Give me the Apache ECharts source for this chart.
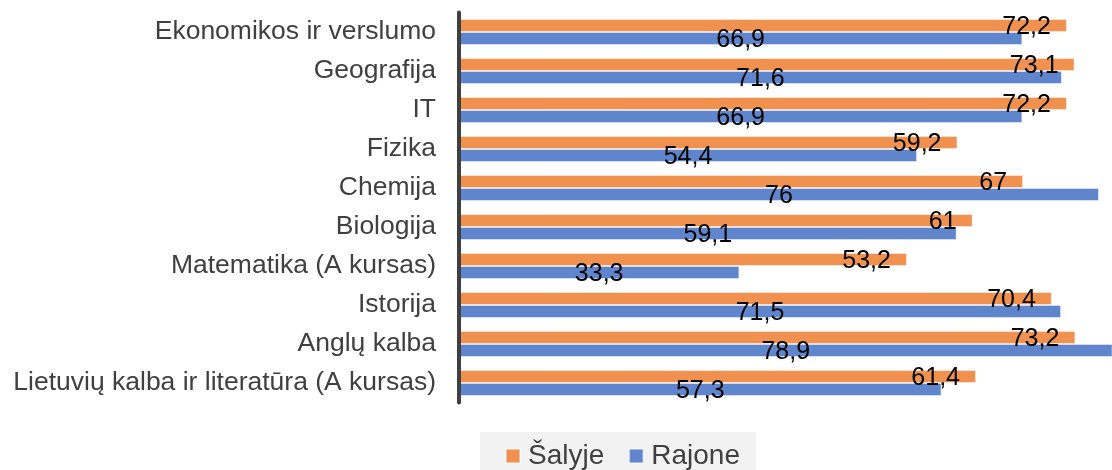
<!DOCTYPE html>
<html>
<head>
<meta charset="utf-8">
<script src="https://cdn.jsdelivr.net/npm/echarts@6/dist/echarts.min.js"></script>
<style>
html,body{margin:0;padding:0;background:#fff;}
#chart{width:1112px;height:470px;}
</style>
</head>
<body>
<div id="chart"></div>
<script>
const categories = [
  'Ekonomikos ir verslumo',
  'Geografija',
  'IT',
  'Fizika',
  'Chemija',
  'Biologija',
  'Matematika (A kursas)',
  'Istorija',
  'Anglų kalba',
  'Lietuvių kalba ir literatūra (A kursas)'
];
const salyje = [72.2, 73.1, 72.2, 59.2, 67, 61, 53.2, 70.4, 73.2, 61.4];
const rajone = [66.9, 71.6, 66.9, 54.4, 76, 59.1, 33.3, 71.5, 78.9, 57.3];

const FONT = '"Liberation Sans", Arial, sans-serif';
const fmt = p => String(p.value).replace('.', ',');

const chart = echarts.init(document.getElementById('chart'), null, {renderer: 'canvas'});
chart.setOption({
  animation: false,
  backgroundColor: '#ffffff',
  grid: {left: 459, right: 0, top: 12.5, bottom: 67.5, containLabel: false},
  legend: {
    data: ['Šalyje', 'Rajone'],
    left: 480,
    top: 432,
    padding: [10, 16, 10, 25],
    backgroundColor: '#f2f2f2',
    itemGap: 24,
    itemWidth: 14,
    itemHeight: 14,
    icon: 'rect',
    textStyle: {fontFamily: FONT, fontSize: 28, color: '#404040', lineHeight: 28, padding: [0, 0, 0, 3]}
  },
  xAxis: {
    type: 'value', min: 0, max: 77.55, show: false
  },
  yAxis: {
    type: 'category',
    data: categories,
    inverse: true,
    z: 10,
    axisLine: {show: true, lineStyle: {color: '#404040', width: 4}},
    axisTick: {show: false},
    splitLine: {show: false},
    axisLabel: {fontFamily: FONT, fontSize: 26.5, color: '#404040', margin: 23}
  },
  series: [
    {
      name: 'Šalyje', type: 'bar', data: salyje, clip: true,
      barGap: 0, barCategoryGap: '33.3%',
      itemStyle: {color: '#F09150', borderColor: 'rgba(255,255,255,0.45)', borderWidth: 1},
      label: {show: true, position: 'insideRight', distance: 16, offset: [0, 2],
        formatter: fmt, fontFamily: FONT, fontSize: 25, color: '#000000'}
    },
    {
      name: 'Rajone', type: 'bar', data: rajone, clip: true,
      barGap: 0, barCategoryGap: '33.3%',
      itemStyle: {color: '#5F86CC', borderColor: 'rgba(255,255,255,0.45)', borderWidth: 1},
      label: {show: true, position: 'inside', offset: [0, 2],
        formatter: fmt, fontFamily: FONT, fontSize: 25, color: '#000000'}
    }
  ]
});
</script>
</body>
</html>
